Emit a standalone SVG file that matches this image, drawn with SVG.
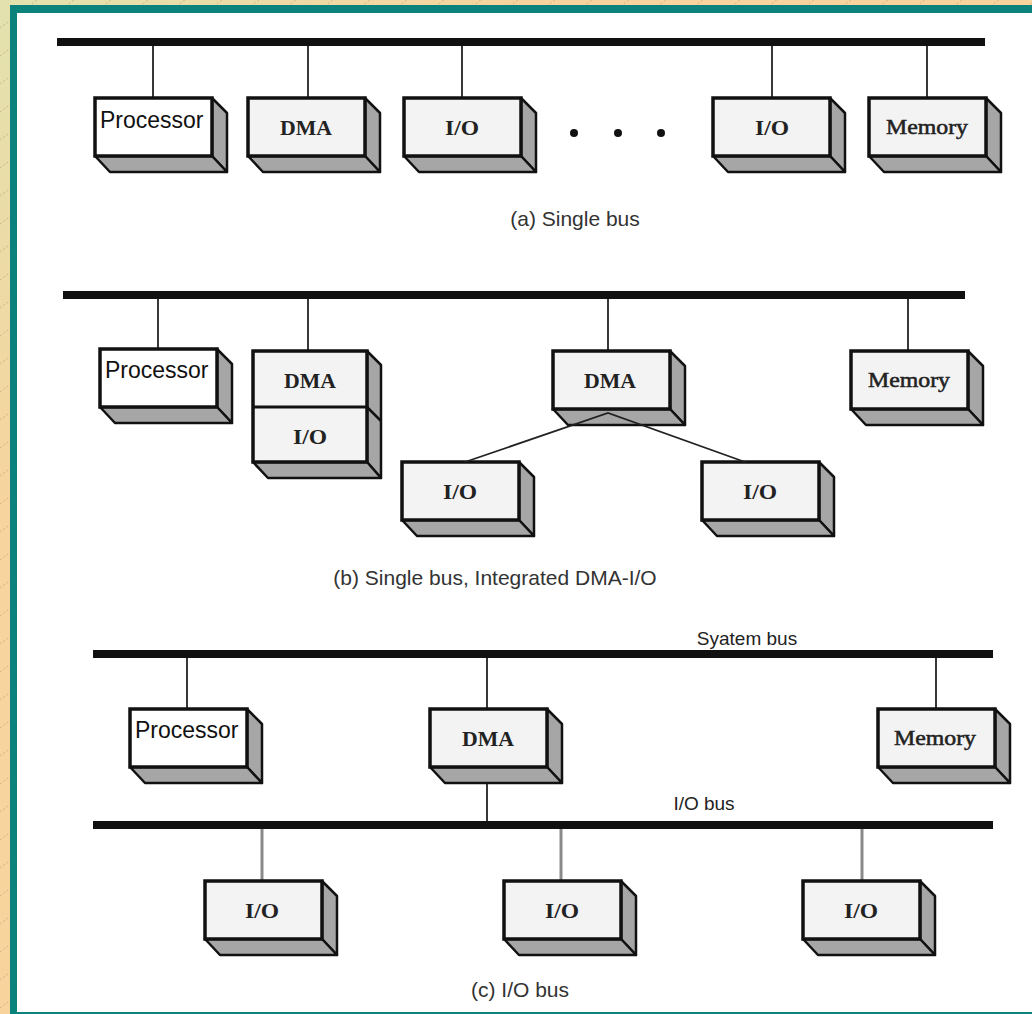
<svg xmlns="http://www.w3.org/2000/svg" xmlns:xlink="http://www.w3.org/1999/xlink" width="1032" height="1014" viewBox="0 0 1032 1014">
  <style>
    .bus { stroke: #111; stroke-width: 8; }
    .drop { stroke: #222; stroke-width: 1.8; }
    .drop-gray { stroke: #8a8a8a; stroke-width: 3; }
    .front { stroke: #111; stroke-width: 3.5; }
    .side { fill: #a6a6a6; stroke: #111; stroke-width: 2.5; stroke-linejoin: round; }
    .std { fill: #f3f3f3; }
    .cpu { fill: #ffffff; }
    .lbl { font-family: "Liberation Serif", "Times New Roman", serif; font-weight: bold; font-size: 20px; fill: #222; text-anchor: middle; }
    .mem { font-weight: normal; stroke: #222; stroke-width: 0.5; }
    .cpu-lbl { font-family: "Liberation Sans", Arial, sans-serif; font-size: 23px; fill: #111; }
    .cap { font-family: "Liberation Sans", Arial, sans-serif; font-size: 21px; fill: #333; text-anchor: middle; }
    .busname { font-family: "Liberation Sans", Arial, sans-serif; font-size: 19px; fill: #222; text-anchor: middle; }
  </style>
  <defs>
    <linearGradient id="bg" x1="0" y1="0" x2="1" y2="1">
      <stop offset="0" stop-color="#e2e2ae"/>
      <stop offset="0.25" stop-color="#f7d49e"/>
      <stop offset="1" stop-color="#fad29a"/>
    </linearGradient>
    <pattern id="hatch" width="37" height="28" patternUnits="userSpaceOnUse">
      <line x1="0" y1="28" x2="37" y2="0" stroke="#b8936a" stroke-width="0.8" stroke-dasharray="2 2" opacity="0.7"/>
    </pattern>
    <!-- 3D module block: side face, bottom face, then the front face -->
    <g id="box">
      <path class="side" d="M117,0 L132,15 L132,74 L117,58 Z"/>
      <path class="side" d="M0,58 L15,74 L132,74 L117,58 Z"/>
      <rect class="front" x="0" y="0" width="117" height="58"/>
    </g>
  </defs>

  <!-- page background and frame -->
  <rect x="0" y="0" width="1032" height="1014" fill="url(#bg)"/>
  <rect x="0" y="0" width="1032" height="1014" fill="url(#hatch)"/>
  <rect x="10" y="5" width="1030" height="1020" fill="#0b827b"/>
  <rect x="17" y="13" width="1020" height="999" fill="#ffffff"/>

  <!-- buses and links -->
  <g id="connectors">
    <!-- (a) -->
    <line class="bus" x1="57" y1="42" x2="985" y2="42"/>
    <line class="drop" x1="153" y1="46" x2="153" y2="98"/>
    <line class="drop" x1="308" y1="46" x2="308" y2="98"/>
    <line class="drop" x1="462" y1="46" x2="462" y2="98"/>
    <line class="drop" x1="772" y1="46" x2="772" y2="98"/>
    <line class="drop" x1="927" y1="46" x2="927" y2="98"/>
    <!-- (b) -->
    <line class="bus" x1="63" y1="295" x2="965" y2="295"/>
    <line class="drop" x1="158" y1="299" x2="158" y2="349"/>
    <line class="drop" x1="308" y1="299" x2="308" y2="351" stroke-width="2.5"/>
    <line class="drop" x1="608" y1="299" x2="608" y2="351"/>
    <line class="drop" x1="908" y1="299" x2="908" y2="351"/>
    <!-- (c) -->
    <line class="bus" x1="93" y1="654" x2="993" y2="654"/>
    <line class="drop" x1="187" y1="658" x2="187" y2="709"/>
    <line class="drop" x1="487" y1="658" x2="487" y2="709"/>
    <line class="drop" x1="936" y1="658" x2="936" y2="709"/>
    <line class="drop" x1="487" y1="782" x2="487" y2="821"/>
    <line class="bus" x1="93" y1="825" x2="993" y2="825"/>
    <line class="drop-gray" x1="262" y1="829" x2="262" y2="881"/>
    <line class="drop-gray" x1="561" y1="829" x2="561" y2="881"/>
    <line class="drop-gray" x1="862" y1="829" x2="862" y2="881"/>
  </g>

  <!-- (a) Single bus -->
  <g id="a-processor">
    <use href="#box" x="95" y="98" class="cpu"/>
    <text class="cpu-lbl" x="100" y="128">Processor</text>
  </g>
  <g id="a-dma">
    <use href="#box" x="248" y="98" class="std"/>
    <text class="lbl" x="306" y="135" textLength="52" lengthAdjust="spacingAndGlyphs">DMA</text>
  </g>
  <g id="a-io1">
    <use href="#box" x="404" y="98" class="std"/>
    <text class="lbl" x="462" y="135" textLength="34" lengthAdjust="spacingAndGlyphs">I/O</text>
  </g>
  <g id="a-ellipsis">
    <circle cx="574" cy="133" r="4" fill="#111"/>
    <circle cx="618" cy="133" r="4" fill="#111"/>
    <circle cx="661" cy="133" r="4" fill="#111"/>
  </g>
  <g id="a-io2">
    <use href="#box" x="713" y="98" class="std"/>
    <text class="lbl" x="772" y="135" textLength="34" lengthAdjust="spacingAndGlyphs">I/O</text>
  </g>
  <g id="a-memory">
    <use href="#box" x="869" y="98" class="std"/>
    <text class="lbl mem" x="927" y="134" textLength="82" lengthAdjust="spacingAndGlyphs">Memory</text>
  </g>
  <text class="cap" x="575" y="226">(a) Single bus</text>

  <!-- (b) Single bus, integrated DMA-I/O -->
  <g id="b-processor">
    <use href="#box" x="100" y="349" class="cpu"/>
    <text class="cpu-lbl" x="105" y="378">Processor</text>
  </g>
  <g id="b-dma-io">
    <path class="side" d="M367,351 L381,365 L381,478 L367,462 Z"/>
    <path class="side" d="M253,462 L268,478 L381,478 L367,462 Z"/>
    <line x1="367" y1="407" x2="381" y2="421" stroke="#111" stroke-width="2.5"/>
    <rect class="front std" x="253" y="351" width="114" height="111"/>
    <line x1="253" y1="407" x2="367" y2="407" stroke="#111" stroke-width="3"/>
    <text class="lbl" x="310" y="388" textLength="52" lengthAdjust="spacingAndGlyphs">DMA</text>
    <text class="lbl" x="310" y="444" textLength="34" lengthAdjust="spacingAndGlyphs">I/O</text>
  </g>
  <g id="b-dma">
    <use href="#box" x="553" y="351" class="std"/>
    <text class="lbl" x="610" y="388" textLength="52" lengthAdjust="spacingAndGlyphs">DMA</text>
  </g>
  <g id="b-memory">
    <use href="#box" x="851" y="351" class="std"/>
    <text class="lbl mem" x="909" y="387" textLength="82" lengthAdjust="spacingAndGlyphs">Memory</text>
  </g>
  <g id="b-io1">
    <use href="#box" x="402" y="462" class="std"/>
    <text class="lbl" x="460" y="499" textLength="34" lengthAdjust="spacingAndGlyphs">I/O</text>
  </g>
  <g id="b-io2">
    <use href="#box" x="702" y="462" class="std"/>
    <text class="lbl" x="760" y="499" textLength="34" lengthAdjust="spacingAndGlyphs">I/O</text>
  </g>
  <g id="b-links">
    <polyline points="465,462 608,413 745,462" fill="none" stroke="#222" stroke-width="1.8"/>
  </g>
  <text class="cap" x="495" y="585">(b) Single bus, Integrated DMA-I/O</text>

  <!-- (c) I/O bus -->
  <text class="busname" x="747" y="645">Syatem bus</text>
  <text class="busname" x="704" y="810">I/O bus</text>
  <g id="c-processor">
    <use href="#box" x="130" y="709" class="cpu"/>
    <text class="cpu-lbl" x="135" y="738">Processor</text>
  </g>
  <g id="c-dma">
    <use href="#box" x="430" y="709" class="std"/>
    <text class="lbl" x="488" y="746" textLength="52" lengthAdjust="spacingAndGlyphs">DMA</text>
  </g>
  <g id="c-memory">
    <use href="#box" x="878" y="709" class="std"/>
    <text class="lbl mem" x="935" y="745" textLength="82" lengthAdjust="spacingAndGlyphs">Memory</text>
  </g>
  <g id="c-io1">
    <use href="#box" x="205" y="881" class="std"/>
    <text class="lbl" x="262" y="918" textLength="34" lengthAdjust="spacingAndGlyphs">I/O</text>
  </g>
  <g id="c-io2">
    <use href="#box" x="504" y="881" class="std"/>
    <text class="lbl" x="562" y="918" textLength="34" lengthAdjust="spacingAndGlyphs">I/O</text>
  </g>
  <g id="c-io3">
    <use href="#box" x="803" y="881" class="std"/>
    <text class="lbl" x="861" y="918" textLength="34" lengthAdjust="spacingAndGlyphs">I/O</text>
  </g>
  <text class="cap" x="520" y="997">(c) I/O bus</text>
</svg>
